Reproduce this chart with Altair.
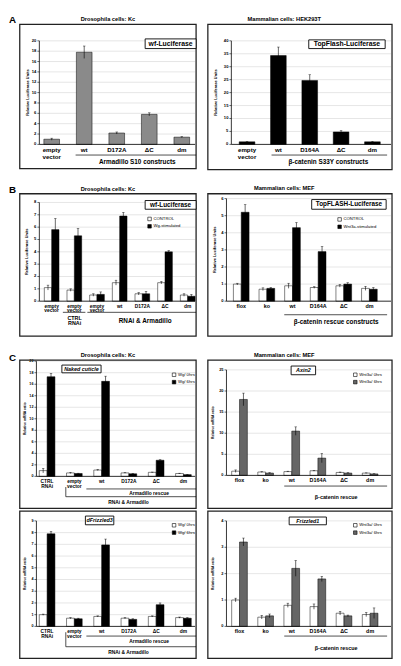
import altair as alt
import pandas as pd

FONT = "Liberation Sans"
W, H = 393, 658

# ---------------- data ----------------
A1_cats = ["empty vector", "wt", "D172A", "ΔC", "dm"]
A1_vals = [1.0, 17.8, 2.2, 5.8, 1.4]
A1_errs = [0.2, 1.2, 0.2, 0.3, 0.1]

A2_cats = ["empty vector", "wt", "D164A", "ΔC", "dm"]
A2_vals = [1.0, 34.3, 24.7, 4.8, 1.0]
A2_errs = [0.1, 3.3, 2.2, 0.5, 0.1]

B1_cats = ["empty vector", "empty vector ", "empty vector  ", "wt", "D172A", "ΔC", "dm"]
B1_series = ["CONTROL", "Wg-stimulated"]
B1_ctrl = [1.1, 0.9, 0.5, 1.5, 0.6, 1.5, 0.5]
B1_ctrl_err = [0.2, 0.1, 0.1, 0.2, 0.1, 0.1, 0.1]
B1_stim = [5.8, 5.3, 0.55, 6.9, 0.6, 4.0, 0.4]
B1_stim_err = [0.9, 0.6, 0.2, 0.3, 0.2, 0.1, 0.15]

B2_cats = ["flox", "ko", "wt", "D164A", "ΔC", "dm"]
B2_series = ["CONTROL ", "Wnt3a-stimulated"]
B2_ctrl = [1.0, 0.7, 0.9, 0.8, 0.9, 0.75]
B2_ctrl_err = [0.05, 0.08, 0.15, 0.05, 0.08, 0.12]
B2_stim = [5.2, 0.75, 4.3, 2.9, 1.0, 0.7]
B2_stim_err = [0.45, 0.05, 0.3, 0.3, 0.08, 0.1]

C_dros_cats = ["CTRL RNAi", "empty vector", "wt", "D172A", "ΔC", "dm"]
C_dros_series = ["Wg/ 0hrs", "Wg/ 6hrs"]
C1_ctrl = [1.0, 0.6, 1.1, 0.6, 0.7, 0.5]          # Naked cuticle
C1_ctrl_err = [0.4, 0.1, 0.1, 0.05, 0.05, 0.05]
C1_stim = [17.3, 0.5, 16.5, 0.45, 2.8, 0.3]
C1_stim_err = [0.6, 0.05, 0.9, 0.05, 0.1, 0.05]

C3_ctrl = [1.0, 0.7, 0.85, 0.7, 0.85, 0.75]       # dFrizzled3
C3_ctrl_err = [0.05, 0.05, 0.05, 0.05, 0.05, 0.05]
C3_stim = [7.9, 0.65, 6.95, 0.6, 1.85, 0.7]
C3_stim_err = [0.2, 0.05, 0.5, 0.05, 0.15, 0.05]

C_mef_cats = ["flox", "ko", "wt", "D164A", "ΔC", "dm"]
C_mef_series = ["Wnt3a/ 0hrs", "Wnt3a/ 6hrs"]
C2_ctrl = [1.0, 0.8, 0.9, 1.1, 0.7, 0.55]         # Axin2
C2_ctrl_err = [0.3, 0.1, 0.1, 0.1, 0.1, 0.05]
C2_stim = [18.0, 0.55, 10.5, 4.1, 0.55, 0.35]
C2_stim_err = [1.5, 0.1, 1.0, 1.1, 0.1, 0.05]

C4_ctrl = [1.0, 0.35, 0.8, 0.75, 0.5, 0.45]       # Frizzled1
C4_ctrl_err = [0.07, 0.07, 0.08, 0.1, 0.07, 0.08]
C4_stim = [3.2, 0.4, 2.2, 1.8, 0.4, 0.5]
C4_stim_err = [0.15, 0.07, 0.3, 0.1, 0.03, 0.2]


# ---------------- helpers ----------------
def X(r):
    return round(r - 8, 2)


def Y(r):
    return round(r * H / 666, 2)


ONE = alt.Data(values=[{"k": 0}])


def text(s, x, y, size, bold=True, italic=False, align="center", angle=0):
    return alt.Chart(ONE).mark_text(
        text=s, fontSize=size, font=FONT,
        fontWeight="bold" if bold else "normal",
        fontStyle="italic" if italic else "normal",
        align=align, baseline="middle", color="black", angle=angle,
    ).encode(x=alt.value(X(x)), y=alt.value(Y(y)))


def hline(x1, x2, y, w=0.7):
    return alt.Chart(ONE).mark_rule(color="black", strokeWidth=w).encode(
        x=alt.value(X(x1)), x2=alt.value(X(x2)), y=alt.value(Y(y)))


def vline(x, y1, y2, w=0.7):
    return alt.Chart(ONE).mark_rule(color="black", strokeWidth=w).encode(
        x=alt.value(X(x)), y=alt.value(Y(y1)), y2=alt.value(Y(y2)))


def box(x1, y1, x2, y2, w=1.3, fill_opacity=0.0, color="#222222"):
    return alt.Chart(ONE).mark_rect(
        fill="white", fillOpacity=fill_opacity, stroke=color, strokeWidth=w
    ).encode(x=alt.value(X(x1)), x2=alt.value(X(x2)),
             y=alt.value(Y(y1)), y2=alt.value(Y(y2)))


def labelbox(s, x1, y1, x2, y2, size, italic=False):
    return [box(x1, y1, x2, y2, w=0.9, fill_opacity=1.0, color="black"),
            text(s, (x1 + x2) / 2, (y1 + y2) / 2, size, italic=italic)]


def panel(cats, names, vals, errs, colors, ymax, ystep, ytitle,
          y0, ytop, xa, xb, axis_x, right_x, title_x, bw, lab_fs, line_h,
          legend_xy=None, ylab_fs=4.2, ytitle_fs=4.0):
    rows = []
    for name, vs, es in zip(names, vals, errs):
        for c, v, e in zip(cats, vs, es):
            rows.append({"cat": c, "s": name, "v": v,
                         "lo": max(v - e, 0), "hi": v + e})
    df = pd.DataFrame(rows)
    n = len(names)
    xscale = alt.Scale(domain=cats, range=[X(xa), X(xb)],
                       paddingInner=0, paddingOuter=0)
    yscale = alt.Scale(domain=[0, ymax], range=[Y(y0), Y(ytop)],
                       nice=False, zero=True)

    ticks = [i * ystep for i in range(int(round(ymax / ystep)) + 1)]
    tb = alt.Chart(pd.DataFrame({"t": ticks}))
    ty = alt.Y("t:Q", scale=yscale, axis=None)
    layers = [
        tb.mark_rule(color="#cccccc", strokeWidth=0.5).encode(
            y=ty, x=alt.value(X(axis_x)), x2=alt.value(X(right_x))),
        tb.mark_rule(color="black", strokeWidth=0.6).encode(
            y=ty, x=alt.value(X(axis_x) - 2), x2=alt.value(X(axis_x))),
        tb.mark_text(align="right", baseline="middle", fontSize=ylab_fs,
                     font=FONT, fontWeight="bold", color="black").encode(
            y=ty, x=alt.value(X(axis_x) - 3),
            text=alt.Text("t:Q", format="d")),
    ]

    for i, name in enumerate(names):
        off = (i - (n - 1) / 2) * bw
        base = alt.Chart(df).transform_filter(alt.datum.s == name)
        if n > 1:
            fill = alt.Fill(
                "s:N",
                scale=alt.Scale(domain=names, range=colors),
                legend=alt.Legend(
                    orient="none", legendX=X(legend_xy[0]),
                    legendY=Y(legend_xy[1]), title=None,
                    symbolType="square", symbolSize=13,
                    symbolStrokeColor="black", symbolStrokeWidth=0.6,
                    labelFontSize=4.3, labelFont=FONT, labelColor="black",
                    rowPadding=0.5, padding=0, labelOffset=1.5),
            )
        else:
            fill = alt.value(colors[0])
        xe = alt.X("cat:N", sort=cats, scale=xscale, axis=None)
        bars = base.mark_bar(width=bw, xOffset=off, stroke="black",
                             strokeWidth=0.5).encode(
            x=xe, y=alt.Y("v:Q", scale=yscale, axis=None), fill=fill)
        err = base.mark_rule(xOffset=off, color="black",
                             strokeWidth=0.6).encode(
            x=xe, y=alt.Y("lo:Q", scale=yscale, axis=None), y2="hi:Q")
        cap = base.mark_tick(xOffset=off, color="black", thickness=0.6,
                             size=2.5).encode(
            x=xe, y=alt.Y("hi:Q", scale=yscale, axis=None))
        layers += [bars, err, cap]

    # axis lines
    layers.append(alt.Chart(ONE).mark_rule(color="black", strokeWidth=0.8).encode(
        x=alt.value(X(axis_x)), y=alt.value(Y(y0)), y2=alt.value(Y(ytop))))
    layers.append(alt.Chart(ONE).mark_rule(color="black", strokeWidth=0.8).encode(
        x=alt.value(X(axis_x)), x2=alt.value(X(right_x)), y=alt.value(Y(y0))))
    # category labels
    lab_df = pd.DataFrame({"cat": cats,
                           "lab": [c.strip().replace(" ", "\n") for c in cats]})
    layers.append(alt.Chart(lab_df).mark_text(
        baseline="top", fontSize=lab_fs, font=FONT, fontWeight="bold",
        color="black", lineBreak="\n", lineHeight=line_h).encode(
        x=alt.X("cat:N", sort=cats, scale=xscale, axis=None),
        y=alt.value(Y(y0) + 2.5), text="lab:N"))
    # y title
    layers.append(text(ytitle, title_x, (y0 + ytop) / 2, ytitle_fs, angle=270))
    return alt.layer(*layers)


# ---------------- panels ----------------
pA1 = panel(A1_cats, ["v"], [A1_vals], [A1_errs], ["#8a8a8a"], 20, 2,
            "Relative Luciferase Units", 134, 27, 36, 202, 40, 199, 28.5,
            16, 6.3, 7)
pA2 = panel(A2_cats, ["v"], [A2_vals], [A2_errs], ["#000000"], 40, 5,
            "Relative Luciferase Units", 134, 27, 236, 396, 236, 399, 220,
            16, 6.3, 7)
pB1 = panel(B1_cats, B1_series, [B1_ctrl, B1_stim], [B1_ctrl_err, B1_stim_err],
            ["#ffffff", "#000000"], 8, 1, "Relative Luciferase Units",
            296, 194, 41, 203, 40, 199, 27, 7.5, 5.0, 4.3,
            legend_xy=(150, 208.5))
pB2 = panel(B2_cats, B2_series, [B2_ctrl, B2_stim], [B2_ctrl_err, B2_stim_err],
            ["#ffffff", "#000000"], 6, 1, "Relative Luciferase Units",
            296, 190, 233, 390, 231, 399, 219, 8, 5.5, 5,
            legend_xy=(344, 209))
pC1 = panel(C_dros_cats, C_dros_series, [C1_ctrl, C1_stim],
            [C1_ctrl_err, C1_stim_err], ["#ffffff", "#000000"], 20, 2,
            "Relative mRNA ratio", 477, 358, 34, 201, 37, 199, 25, 8, 5.0, 5,
            legend_xy=(175, 369.5), ylab_fs=3.8, ytitle_fs=3.5)
pC3 = panel(C_dros_cats, C_dros_series, [C3_ctrl, C3_stim],
            [C3_ctrl_err, C3_stim_err], ["#ffffff", "#000000"], 9, 1,
            "Relative mRNA ratio", 632, 523, 34, 201, 37, 199, 25, 8, 5.0, 5,
            legend_xy=(175, 525), ylab_fs=3.8, ytitle_fs=3.5)
pC2 = panel(C_mef_cats, C_mef_series, [C2_ctrl, C2_stim],
            [C2_ctrl_err, C2_stim_err], ["#ffffff", "#666666"], 25, 5,
            "Relative mRNA ratio", 476, 367, 231, 391, 231, 399, 217, 8, 5.5, 5,
            legend_xy=(360, 369.5), ylab_fs=4.0, ytitle_fs=3.5)
pC4 = panel(C_mef_cats, C_mef_series, [C4_ctrl, C4_stim],
            [C4_ctrl_err, C4_stim_err], ["#ffffff", "#666666"], 4, 1,
            "Relative mRNA ratio", 632, 523, 231, 391, 231, 399, 217, 8, 5.5, 5,
            legend_xy=(360, 525), ylab_fs=4.0, ytitle_fs=3.5)

deco = []
# Row A
deco += [text("A", 9, 6, 10, align="left"),
         text("Drosophila cells: Kc", 110, 4, 5.8),
         text("Mammalian cells: HEK293T", 290, 4, 5.8),
         box(20, 10, 200, 159), box(212, 10, 400, 160)]
deco += labelbox("wf-Luciferase", 148, 25, 200, 35, 7)
deco += labelbox("TopFlash-Luciferase", 315, 26, 393, 35, 7)
deco += [hline(77, 200, 145), text("Armadillo S10 constructs", 140, 152, 6.5),
         hline(277, 395, 145), text("β-catenin S33Y constructs", 335, 152, 6.5)]
# Row B
deco += [text("B", 9, 181, 10, align="left"),
         text("Drosophila cells: Kc", 110, 180, 5.8),
         text("Mammalian cells: MEF", 290, 179, 5.8),
         box(20, 185, 200, 332), box(212, 185, 400, 332)]
deco += labelbox("wf-Luciferase", 148, 192, 200, 201, 6.5)
deco += labelbox("TopFLASH-Luciferase", 318, 191, 394, 201, 6.5)
deco += [hline(64, 87, 307.5), text("CTRL", 76, 313, 5.5), text("RNAi", 76, 319, 5.5),
         hline(89, 200, 307.5), text("RNAi & Armadillo", 148, 316, 6.5),
         hline(290, 395, 310), text("β-catenin rescue constructs", 343, 318, 6.5)]
# Row C
deco += [text("C", 9, 355, 10, align="left"),
         text("Drosophila cells: Kc", 110, 352, 5.8),
         text("Mammalian cells: MEF", 290, 352, 5.8),
         box(20, 357, 200, 510), box(212, 357, 400, 510),
         box(20, 513, 200, 665), box(212, 513, 400, 665)]
deco += labelbox("Naked cuticle", 63, 362, 103, 370, 5.5, italic=True)
deco += labelbox("dFrizzled3", 87, 518, 116, 527, 5.5, italic=True)
deco += labelbox("Axin2", 297, 363, 322, 372, 5.5, italic=True)
deco += labelbox("Frizzled1", 295, 519, 333, 527, 5.5, italic=True)
deco += [hline(88, 200, 490), text("Armadillo rescue", 152, 494.5, 5),
         vline(67, 488, 498), hline(67, 200, 498),
         text("RNAi & Armadillo", 131, 504, 5),
         hline(88, 200, 642), text("Armadillo rescue", 152, 647, 5),
         vline(67, 638, 653), hline(67, 200, 653),
         text("RNAi & Armadillo", 131, 659, 5),
         hline(290, 395, 487), text("β-catenin rescue", 343, 498, 5.5),
         hline(290, 395, 642), text("β-catenin rescue", 343, 654, 5.5)]

chart = alt.layer(
    pA1, pA2, pB1, pB2, pC1, pC3, pC2, pC4, *deco
).resolve_scale(
    x="independent", y="independent", fill="independent"
).properties(
    width=W, height=H, padding=0,
    autosize=alt.AutoSizeParams(type="none"),
).configure_view(stroke=None)

chart.save("out.html", embed_options={"renderer": "svg", "actions": False})
